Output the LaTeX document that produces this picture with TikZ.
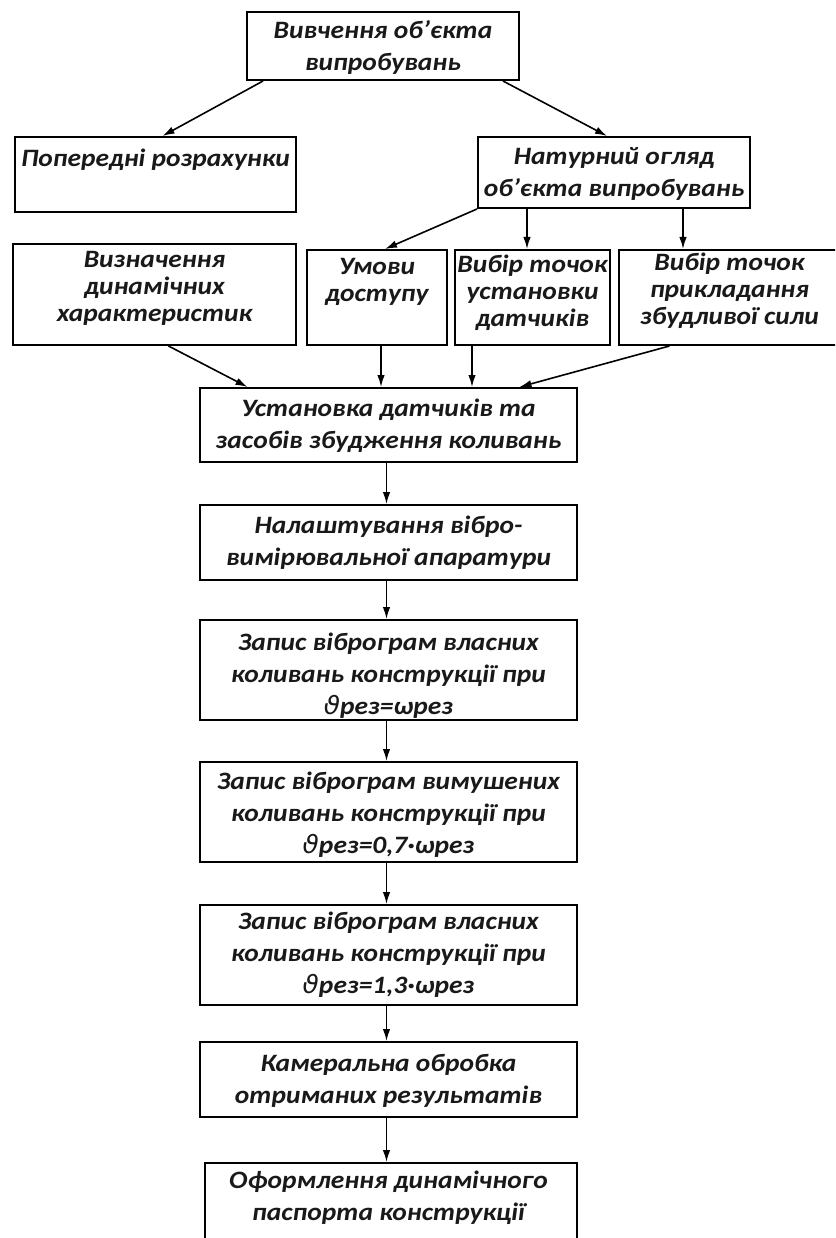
\documentclass[tikz,border=0pt]{standalone}
\usepackage{fontspec}
\setmainfont{Carlito}[FakeStretch=1.1]
\newfontfamily\symf{DejaVu Sans}[ItalicFont={* Oblique},FakeStretch=1.05]
\usetikzlibrary{arrows.meta}
\newcommand\vth{{\symf\mdseries\itshape ϑ}}
\tikzset{
  box/.style={draw=black, line width=2pt, fill=white, inner sep=0pt},
  txt/.style={align=center, inner sep=0pt, text=black!90,
    font=\fontsize{25}{32}\selectfont\bfseries\itshape},
  tight/.style={font=\fontsize{25}{27}\selectfont\bfseries\itshape},
  arr/.style={draw=black, line width=1.6pt, -{Latex[length=12pt,width=7.5pt]}}
}
\begin{document}
\begin{tikzpicture}[x=1pt,y=-1pt]
\useasboundingbox (0,0) rectangle (835,1238);
\clip (0,0) rectangle (835,1238);
\fill[white] (0,0) rectangle (835,1238);
% boxes
\node[box, minimum width=272pt, minimum height=68pt] (A) at (383,46) {};
\node[box, minimum width=281pt, minimum height=75pt] (B) at (155.5,174.5) {};
\node[box, minimum width=272pt, minimum height=71pt] (C) at (614,172.5) {};
\node[box, minimum width=283pt, minimum height=101pt] (D) at (154.5,294.5) {};
\node[box, minimum width=140pt, minimum height=95pt] (E) at (377,297.5) {};
\node[box, minimum width=155pt, minimum height=95pt] (F) at (532.5,297.5) {};
\node[box, minimum width=221pt, minimum height=95pt] (G) at (729.5,297.5) {};
\node[box, minimum width=377pt, minimum height=74pt] (H) at (388.5,425) {};
\node[box, minimum width=377pt, minimum height=75pt] (I) at (388.5,542.5) {};
\node[box, minimum width=377pt, minimum height=100pt] (J) at (388.5,670) {};
\node[box, minimum width=377pt, minimum height=100pt] (K) at (388.5,812) {};
\node[box, minimum width=377pt, minimum height=100pt] (L) at (388.5,955) {};
\node[box, minimum width=377pt, minimum height=75pt] (M) at (388.5,1079.5) {};
\node[box, minimum width=372pt, minimum height=100pt] (N) at (391,1213) {};
% texts
\node[txt] (tA) at (383,47) {Вивчення об’єкта\\випробувань};
\node[txt] (tB) at (155.5,160) {Попередні розрахунки};
\node[txt] (tC) at (614,174) {Натурний огляд\\об’єкта випробувань};
\node[txt,tight] (tD) at (154.5,288) {Визначення\\динамічних\\характеристик};
\node[txt,tight] (tE) at (377,282) {Умови\\доступу};
\node[txt,tight] (tF) at (532.5,293) {Вибір точок\\установки\\датчиків};
\node[txt,tight] (tG) at (729.5,291) {Вибір точок\\прикладання\\збудливої сили};
\node[txt] (tH) at (388.5,426) {Установка датчиків та\\засобів збудження коливань};
\node[txt] (tI) at (388.5,542.5) {Налаштування вібро-\\вимірювальної апаратури};
\node[txt] (tJ) at (388.5,676) {Запис віброграм власних\\коливань конструкції при\\\vth рез=ωрез};
\node[txt] (tK) at (388.5,815) {Запис віброграм вимушених\\коливань конструкції при\\\vth рез=0,7·ωрез};
\node[txt] (tL) at (388.5,955) {Запис віброграм власних\\коливань конструкції при\\\vth рез=1,3·ωрез};
\node[txt] (tM) at (388.5,1081) {Камеральна обробка\\отриманих результатів};
\node[txt] (tN) at (388.5,1198) {Оформлення динамічного\\паспорта конструкції};
% arrows
\draw[arr] ([xshift=-120pt]A.south) -- ([xshift=7pt]B.north);
\draw[arr] ([xshift=120pt]A.south) -- ([xshift=-7pt]C.north);
\draw[arr] (C.south west) -- ([xshift=8pt]E.north);
\draw[arr] ([xshift=-87pt]C.south) -- ([xshift=-87pt]C.south |- F.north);
\draw[arr] ([xshift=69pt]C.south) -- ([xshift=69pt]C.south |- G.north);
\draw[arr] ([xshift=14pt]D.south) -- ([xshift=-141pt]H.north);
\draw[arr] ([xshift=4pt]E.south) -- ([xshift=4pt]E.south |- H.north);
\draw[arr] ([xshift=-60.5pt]F.south) -- ([xshift=-60.5pt]F.south |- H.north);
\draw[arr] ([xshift=-60pt]G.south) -- ([xshift=131pt]H.north);
\draw[arr] ([xshift=-2pt]H.south) -- ([xshift=-2pt]I.north);
\draw[arr] ([xshift=-2pt]I.south) -- ([xshift=-2pt]J.north);
\draw[arr] ([xshift=-2pt]J.south) -- ([xshift=-2pt]K.north);
\draw[arr] ([xshift=-2pt]K.south) -- ([xshift=-2pt]L.north);
\draw[arr] ([xshift=-2pt]L.south) -- ([xshift=-2pt]M.north);
\draw[arr] ([xshift=-2pt]M.south) -- ([xshift=-2pt]M.south |- N.north);
\end{tikzpicture}
\end{document}
